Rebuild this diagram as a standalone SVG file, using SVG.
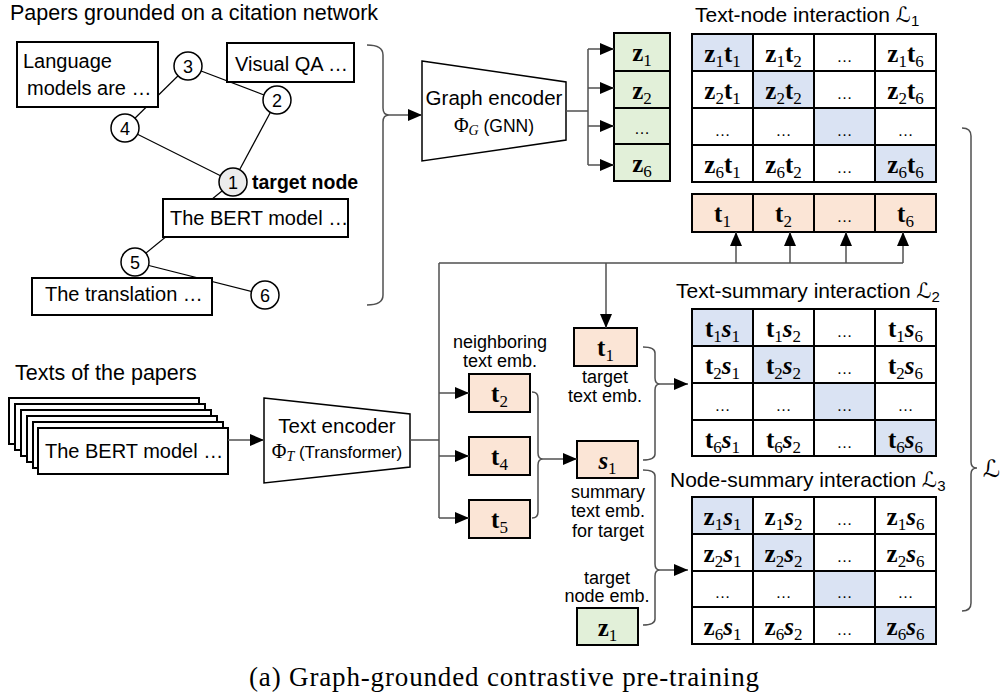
<svg xmlns="http://www.w3.org/2000/svg" width="1008" height="697" viewBox="0 0 1008 697">
<defs>
<style>
.sans{font-family:'Liberation Sans',Arial,sans-serif;fill:#000}
.h{font-size:21.5px}
.lb{font-size:20px}
.sm{font-size:18px}
.enc{font-size:20.5px;text-anchor:middle}
.box{fill:#fff;stroke:#000;stroke-width:2}
.nd{fill:#fff;stroke:#000;stroke-width:1.5}
.edge{stroke:#000;stroke-width:1.2;fill:none}
.con{stroke:#505050;stroke-width:1.5;fill:none}
.arr{stroke:#505050;stroke-width:1.5;fill:none;marker-end:url(#ah)}
.cell{stroke:#000;stroke-width:2;fill:#fff}
.bl{fill:#dae3f3}
.pe{fill:#fbe5d6}
.gr{fill:#e2f0d9}
.c{font-family:'Liberation Serif','Times New Roman',serif;font-weight:bold;font-size:25px;text-anchor:middle;fill:#000}
.b{font-size:17px;font-weight:normal}
.i{font-style:italic}
.e{font-family:'Liberation Sans',Arial,sans-serif;font-size:16px;text-anchor:middle;fill:#000}
.L{font-family:'DejaVu Serif','DejaVu Sans',serif;font-style:italic}
.dg{font-family:'Liberation Sans',Arial,sans-serif;font-size:18px;text-anchor:middle}
.ctr{text-anchor:middle}
.phi{font-family:'Liberation Serif',serif;font-size:20px}
.phs{font-family:'Liberation Serif',serif;font-size:14px;font-style:italic}
</style>
<marker id="ah" markerWidth="14" markerHeight="12" refX="14" refY="6" orient="auto" markerUnits="userSpaceOnUse">
<path d="M0,0 L14,6 L0,12 z" fill="#000"/>
</marker>
</defs>
<rect width="1008" height="697" fill="#fff"/>

<!-- Graph section -->
<text class="sans h" x="10" y="20">Papers grounded on a citation network</text>
<g id="graph-edges">
<line class="edge" x1="188" y1="66" x2="125" y2="128"/>
<line class="edge" x1="188" y1="66" x2="277" y2="100"/>
<line class="edge" x1="125" y1="128" x2="233" y2="182"/>
<line class="edge" x1="277" y1="100" x2="233" y2="182"/>
<line class="edge" x1="233" y1="182" x2="135" y2="262"/>
<line class="edge" x1="135" y1="262" x2="265" y2="295"/>
</g>
<g id="paper-language"><rect class="box" x="17" y="42" width="141" height="65"/><text class="sans lb" x="23" y="68">Language</text><text class="sans lb" x="27" y="95">models are …</text></g>
<g id="paper-vqa"><rect class="box" x="227" y="43" width="127" height="39"/><text class="sans lb" x="235" y="71">Visual QA …</text></g>
<g id="paper-bert"><rect class="box" x="163" y="199" width="185" height="38"/><text class="sans lb" x="170" y="225">The BERT model …</text></g>
<g id="paper-translation"><rect class="box" x="32" y="278" width="180" height="37"/><text class="sans lb" x="45" y="301">The translation …</text></g>
<g id="node-3"><circle class="nd" cx="188" cy="66" r="14"/><text class="dg" x="188" y="72.5">3</text></g>
<g id="node-2"><circle class="nd" cx="277" cy="100" r="14"/><text class="dg" x="277" y="106.5">2</text></g>
<g id="node-4"><circle class="nd" cx="125" cy="128" r="14"/><text class="dg" x="125" y="134.5">4</text></g>
<g id="node-1"><circle class="nd" cx="233" cy="182" r="14" style="fill:#ececec"/><text class="dg" x="233" y="188.5">1</text><text class="sans" x="252" y="189" style="font-size:19.5px;font-weight:bold">target node</text></g>
<g id="node-5"><circle class="nd" cx="135" cy="262" r="14"/><text class="dg" x="135" y="268.5">5</text></g>
<g id="node-6"><circle class="nd" cx="265" cy="295" r="14"/><text class="dg" x="265" y="301.5">6</text></g>

<!-- Texts of the papers -->
<text class="sans h" x="15" y="380">Texts of the papers</text>
<g id="paper-stack">
<rect class="box" x="9" y="398" width="190" height="46"/>
<rect class="box" x="15" y="404" width="190" height="46"/>
<rect class="box" x="21" y="410" width="190" height="46"/>
<rect class="box" x="27" y="416" width="190" height="46"/>
<rect class="box" x="33" y="422" width="190" height="46"/>
<rect class="box" x="38" y="428" width="190" height="46"/>
<text class="sans lb" x="45" y="458">The BERT model …</text>
</g>

<!-- Encoders -->
<g id="graph-encoder">
<polygon points="422,61 566,82 566,140 422,161" fill="#fff" stroke="#000" stroke-width="1.5"/>
<text class="sans enc" x="494" y="105">Graph encoder</text>
<text x="494" y="132" class="ctr"><tspan class="phi">Φ</tspan><tspan class="phs" dy="3">G</tspan><tspan class="sans" style="font-size:17.5px" dy="-3"> (GNN)</tspan></text>
</g>
<g id="text-encoder">
<polygon points="264,398 410,414 410,467 264,483" fill="#fff" stroke="#000" stroke-width="1.5"/>
<text class="sans enc" x="337" y="433">Text encoder</text>
<text x="337" y="458" class="ctr"><tspan class="phi">Φ</tspan><tspan class="phs" dy="3">T</tspan><tspan class="sans" style="font-size:17px" dy="-3"> (Transformer)</tspan></text>
</g>

<!-- Node embeddings z column -->
<g id="z-column">
<rect class="cell gr" x="614" y="33" width="56" height="38"/>
<rect class="cell gr" x="614" y="71" width="56" height="37"/>
<rect class="cell gr" x="614" y="108" width="56" height="36"/>
<rect class="cell gr" x="614" y="144" width="56" height="37"/>
<text class="c" x="642" y="61">z<tspan class="b" dy="5">1</tspan></text>
<text class="c" x="642" y="99">z<tspan class="b" dy="5">2</tspan></text>
<text class="e" x="642" y="134">…</text>
<text class="c" x="642" y="172">z<tspan class="b" dy="5">6</tspan></text>
</g>

<!-- Text-node matrix -->
<g id="matrix-text-node">
<text class="sans" x="695" y="22" style="font-size:21px">Text-node interaction <tspan class="L">ℒ</tspan><tspan dy="4" style="font-size:15px">1</tspan></text>
<rect class="cell bl" x="692" y="34" width="61" height="37"/><rect class="cell" x="753" y="34" width="61" height="37"/><rect class="cell" x="814" y="34" width="61" height="37"/><rect class="cell" x="875" y="34" width="61" height="37"/>
<rect class="cell" x="692" y="71" width="61" height="37"/><rect class="cell bl" x="753" y="71" width="61" height="37"/><rect class="cell" x="814" y="71" width="61" height="37"/><rect class="cell" x="875" y="71" width="61" height="37"/>
<rect class="cell" x="692" y="108" width="61" height="37"/><rect class="cell" x="753" y="108" width="61" height="37"/><rect class="cell bl" x="814" y="108" width="61" height="37"/><rect class="cell" x="875" y="108" width="61" height="37"/>
<rect class="cell" x="692" y="145" width="61" height="37"/><rect class="cell" x="753" y="145" width="61" height="37"/><rect class="cell" x="814" y="145" width="61" height="37"/><rect class="cell bl" x="875" y="145" width="61" height="37"/>
<text class="c" x="722.5" y="62">z<tspan class="b" dy="5">1</tspan><tspan dy="-5">t</tspan><tspan class="b" dy="5">1</tspan></text>
<text class="c" x="783.5" y="62">z<tspan class="b" dy="5">1</tspan><tspan dy="-5">t</tspan><tspan class="b" dy="5">2</tspan></text>
<text class="e" x="844.5" y="62">…</text>
<text class="c" x="905.5" y="62">z<tspan class="b" dy="5">1</tspan><tspan dy="-5">t</tspan><tspan class="b" dy="5">6</tspan></text>
<text class="c" x="722.5" y="99">z<tspan class="b" dy="5">2</tspan><tspan dy="-5">t</tspan><tspan class="b" dy="5">1</tspan></text>
<text class="c" x="783.5" y="99">z<tspan class="b" dy="5">2</tspan><tspan dy="-5">t</tspan><tspan class="b" dy="5">2</tspan></text>
<text class="e" x="844.5" y="99">…</text>
<text class="c" x="905.5" y="99">z<tspan class="b" dy="5">2</tspan><tspan dy="-5">t</tspan><tspan class="b" dy="5">6</tspan></text>
<text class="e" x="722.5" y="136">…</text><text class="e" x="783.5" y="136">…</text><text class="e" x="844.5" y="136">…</text><text class="e" x="905.5" y="136">…</text>
<text class="c" x="722.5" y="173">z<tspan class="b" dy="5">6</tspan><tspan dy="-5">t</tspan><tspan class="b" dy="5">1</tspan></text>
<text class="c" x="783.5" y="173">z<tspan class="b" dy="5">6</tspan><tspan dy="-5">t</tspan><tspan class="b" dy="5">2</tspan></text>
<text class="e" x="844.5" y="173">…</text>
<text class="c" x="905.5" y="173">z<tspan class="b" dy="5">6</tspan><tspan dy="-5">t</tspan><tspan class="b" dy="5">6</tspan></text>
</g>

<!-- t row -->
<g id="t-row">
<rect class="cell pe" x="692" y="194" width="61" height="38"/><rect class="cell pe" x="753" y="194" width="61" height="38"/><rect class="cell pe" x="814" y="194" width="61" height="38"/><rect class="cell pe" x="875" y="194" width="61" height="38"/>
<text class="c" x="722.5" y="222">t<tspan class="b" dy="5">1</tspan></text>
<text class="c" x="783.5" y="222">t<tspan class="b" dy="5">2</tspan></text>
<text class="e" x="844.5" y="222">…</text>
<text class="c" x="905.5" y="222">t<tspan class="b" dy="5">6</tspan></text>
</g>

<!-- Embedding boxes -->
<g id="emb-t1"><rect class="cell pe" x="574" y="328" width="63" height="38"/><text class="c" x="605.5" y="356">t<tspan class="b" dy="5">1</tspan></text>
<text class="sans sm ctr" x="605" y="383">target</text><text class="sans sm ctr" x="605" y="402">text emb.</text></g>
<g id="emb-t2"><text class="sans sm ctr" x="500" y="348">neighboring</text><text class="sans sm ctr" x="500" y="367">text emb.</text>
<rect class="cell pe" x="469" y="374" width="61" height="38"/><text class="c" x="499.5" y="402">t<tspan class="b" dy="5">2</tspan></text></g>
<g id="emb-t4"><rect class="cell pe" x="469" y="437" width="61" height="38"/><text class="c" x="499.5" y="465">t<tspan class="b" dy="5">4</tspan></text></g>
<g id="emb-t5"><rect class="cell pe" x="469" y="500" width="61" height="38"/><text class="c" x="499.5" y="528">t<tspan class="b" dy="5">5</tspan></text></g>
<g id="emb-s1"><rect class="cell pe" x="577" y="441" width="61" height="37"/><text class="c" x="607.5" y="469"><tspan class="i">s</tspan><tspan class="b" dy="5">1</tspan></text>
<text class="sans sm ctr" x="608" y="498">summary</text><text class="sans sm ctr" x="608" y="517">text emb.</text><text class="sans sm ctr" x="608" y="537">for target</text></g>
<g id="emb-z1"><text class="sans sm ctr" x="607" y="584">target</text><text class="sans sm ctr" x="607" y="602">node emb.</text>
<rect class="cell gr" x="577" y="608" width="61" height="37"/><text class="c" x="607.5" y="636">z<tspan class="b" dy="5">1</tspan></text></g>

<!-- Text-summary matrix -->
<g id="matrix-text-summary">
<text class="sans" x="676" y="298" style="font-size:21px">Text-summary interaction <tspan class="L">ℒ</tspan><tspan dy="4" style="font-size:15px">2</tspan></text>
<rect class="cell bl" x="692" y="309" width="61" height="37"/><rect class="cell" x="753" y="309" width="61" height="37"/><rect class="cell" x="814" y="309" width="61" height="37"/><rect class="cell" x="875" y="309" width="61" height="37"/>
<rect class="cell" x="692" y="346" width="61" height="37"/><rect class="cell bl" x="753" y="346" width="61" height="37"/><rect class="cell" x="814" y="346" width="61" height="37"/><rect class="cell" x="875" y="346" width="61" height="37"/>
<rect class="cell" x="692" y="383" width="61" height="37"/><rect class="cell" x="753" y="383" width="61" height="37"/><rect class="cell bl" x="814" y="383" width="61" height="37"/><rect class="cell" x="875" y="383" width="61" height="37"/>
<rect class="cell" x="692" y="420" width="61" height="36"/><rect class="cell" x="753" y="420" width="61" height="36"/><rect class="cell" x="814" y="420" width="61" height="36"/><rect class="cell bl" x="875" y="420" width="61" height="36"/>
<text class="c" x="722.5" y="337">t<tspan class="b" dy="5">1</tspan><tspan class="i" dy="-5">s</tspan><tspan class="b" dy="5">1</tspan></text>
<text class="c" x="783.5" y="337">t<tspan class="b" dy="5">1</tspan><tspan class="i" dy="-5">s</tspan><tspan class="b" dy="5">2</tspan></text>
<text class="e" x="844.5" y="337">…</text>
<text class="c" x="905.5" y="337">t<tspan class="b" dy="5">1</tspan><tspan class="i" dy="-5">s</tspan><tspan class="b" dy="5">6</tspan></text>
<text class="c" x="722.5" y="374">t<tspan class="b" dy="5">2</tspan><tspan class="i" dy="-5">s</tspan><tspan class="b" dy="5">1</tspan></text>
<text class="c" x="783.5" y="374">t<tspan class="b" dy="5">2</tspan><tspan class="i" dy="-5">s</tspan><tspan class="b" dy="5">2</tspan></text>
<text class="e" x="844.5" y="374">…</text>
<text class="c" x="905.5" y="374">t<tspan class="b" dy="5">2</tspan><tspan class="i" dy="-5">s</tspan><tspan class="b" dy="5">6</tspan></text>
<text class="e" x="722.5" y="411">…</text><text class="e" x="783.5" y="411">…</text><text class="e" x="844.5" y="411">…</text><text class="e" x="905.5" y="411">…</text>
<text class="c" x="722.5" y="448">t<tspan class="b" dy="5">6</tspan><tspan class="i" dy="-5">s</tspan><tspan class="b" dy="5">1</tspan></text>
<text class="c" x="783.5" y="448">t<tspan class="b" dy="5">6</tspan><tspan class="i" dy="-5">s</tspan><tspan class="b" dy="5">2</tspan></text>
<text class="e" x="844.5" y="448">…</text>
<text class="c" x="905.5" y="448">t<tspan class="b" dy="5">6</tspan><tspan class="i" dy="-5">s</tspan><tspan class="b" dy="5">6</tspan></text>
</g>

<!-- Node-summary matrix -->
<g id="matrix-node-summary">
<text class="sans" x="670" y="487" style="font-size:21px">Node-summary interaction <tspan class="L">ℒ</tspan><tspan dy="4" style="font-size:15px">3</tspan></text>
<rect class="cell bl" x="692" y="497" width="61" height="37"/><rect class="cell" x="753" y="497" width="61" height="37"/><rect class="cell" x="814" y="497" width="61" height="37"/><rect class="cell" x="875" y="497" width="61" height="37"/>
<rect class="cell" x="692" y="534" width="61" height="37"/><rect class="cell bl" x="753" y="534" width="61" height="37"/><rect class="cell" x="814" y="534" width="61" height="37"/><rect class="cell" x="875" y="534" width="61" height="37"/>
<rect class="cell" x="692" y="571" width="61" height="36"/><rect class="cell" x="753" y="571" width="61" height="36"/><rect class="cell bl" x="814" y="571" width="61" height="36"/><rect class="cell" x="875" y="571" width="61" height="36"/>
<rect class="cell" x="692" y="607" width="61" height="37"/><rect class="cell" x="753" y="607" width="61" height="37"/><rect class="cell" x="814" y="607" width="61" height="37"/><rect class="cell bl" x="875" y="607" width="61" height="37"/>
<text class="c" x="722.5" y="525">z<tspan class="b" dy="5">1</tspan><tspan class="i" dy="-5">s</tspan><tspan class="b" dy="5">1</tspan></text>
<text class="c" x="783.5" y="525">z<tspan class="b" dy="5">1</tspan><tspan class="i" dy="-5">s</tspan><tspan class="b" dy="5">2</tspan></text>
<text class="e" x="844.5" y="525">…</text>
<text class="c" x="905.5" y="525">z<tspan class="b" dy="5">1</tspan><tspan class="i" dy="-5">s</tspan><tspan class="b" dy="5">6</tspan></text>
<text class="c" x="722.5" y="562">z<tspan class="b" dy="5">2</tspan><tspan class="i" dy="-5">s</tspan><tspan class="b" dy="5">1</tspan></text>
<text class="c" x="783.5" y="562">z<tspan class="b" dy="5">2</tspan><tspan class="i" dy="-5">s</tspan><tspan class="b" dy="5">2</tspan></text>
<text class="e" x="844.5" y="562">…</text>
<text class="c" x="905.5" y="562">z<tspan class="b" dy="5">2</tspan><tspan class="i" dy="-5">s</tspan><tspan class="b" dy="5">6</tspan></text>
<text class="e" x="722.5" y="598">…</text><text class="e" x="783.5" y="598">…</text><text class="e" x="844.5" y="598">…</text><text class="e" x="905.5" y="598">…</text>
<text class="c" x="722.5" y="635">z<tspan class="b" dy="5">6</tspan><tspan class="i" dy="-5">s</tspan><tspan class="b" dy="5">1</tspan></text>
<text class="c" x="783.5" y="635">z<tspan class="b" dy="5">6</tspan><tspan class="i" dy="-5">s</tspan><tspan class="b" dy="5">2</tspan></text>
<text class="e" x="844.5" y="635">…</text>
<text class="c" x="905.5" y="635">z<tspan class="b" dy="5">6</tspan><tspan class="i" dy="-5">s</tspan><tspan class="b" dy="5">6</tspan></text>
</g>

<!-- Connectors -->
<g id="connectors">
<path class="con" d="M367,45 Q383,45 383,55 V108 Q383,115 389,115 Q383,115 383,122 V295 Q383,305 367,305"/>
<line class="arr" x1="389" y1="115" x2="422" y2="115"/>
<path class="con" d="M566,111 H588 M588,49 V165"/>
<line class="arr" x1="588" y1="49" x2="614" y2="49"/>
<line class="arr" x1="588" y1="88" x2="614" y2="88"/>
<line class="arr" x1="588" y1="126" x2="614" y2="126"/>
<line class="arr" x1="588" y1="165" x2="614" y2="165"/>
<line class="arr" x1="228" y1="440" x2="264" y2="440"/>
<path class="con" d="M410,440 H439 M439,263 V518 M439,263 H903"/>
<line class="arr" x1="736" y1="263" x2="736" y2="232"/>
<line class="arr" x1="790" y1="263" x2="790" y2="232"/>
<line class="arr" x1="846" y1="263" x2="846" y2="232"/>
<line class="arr" x1="903" y1="263" x2="903" y2="232"/>
<line class="arr" x1="606" y1="263" x2="606" y2="328"/>
<line class="arr" x1="439" y1="393" x2="469" y2="393"/>
<line class="arr" x1="439" y1="456" x2="469" y2="456"/>
<line class="arr" x1="439" y1="518" x2="469" y2="518"/>
<path class="con" d="M532,392 Q538,392 538,398 V453 Q538,459 543,459 Q538,459 538,465 V512 Q538,518 532,518"/>
<line class="arr" x1="543" y1="459" x2="577" y2="459"/>
<path class="con" d="M643,347 Q655,347 655,353 V378 Q655,384 660,384 Q655,384 655,390 V454 Q655,460 643,460"/>
<line class="arr" x1="660" y1="384" x2="688" y2="384"/>
<path class="con" d="M643,470 Q655,470 655,476 V564 Q655,570 660,570 Q655,570 655,576 V619 Q655,625 643,625"/>
<line class="arr" x1="660" y1="570" x2="688" y2="570"/>
<path class="con" d="M962,128 Q971,128 971,136 V462 Q971,468 977,468 Q971,468 971,474 V603 Q971,611 962,611"/>
</g>
<text x="983" y="477" class="L" style="font-size:24px">ℒ</text>

<text x="249" y="686" style="font-family:'Liberation Serif','Times New Roman',serif;font-size:27px" textLength="510">(a) Graph-grounded contrastive pre-training</text>
</svg>
